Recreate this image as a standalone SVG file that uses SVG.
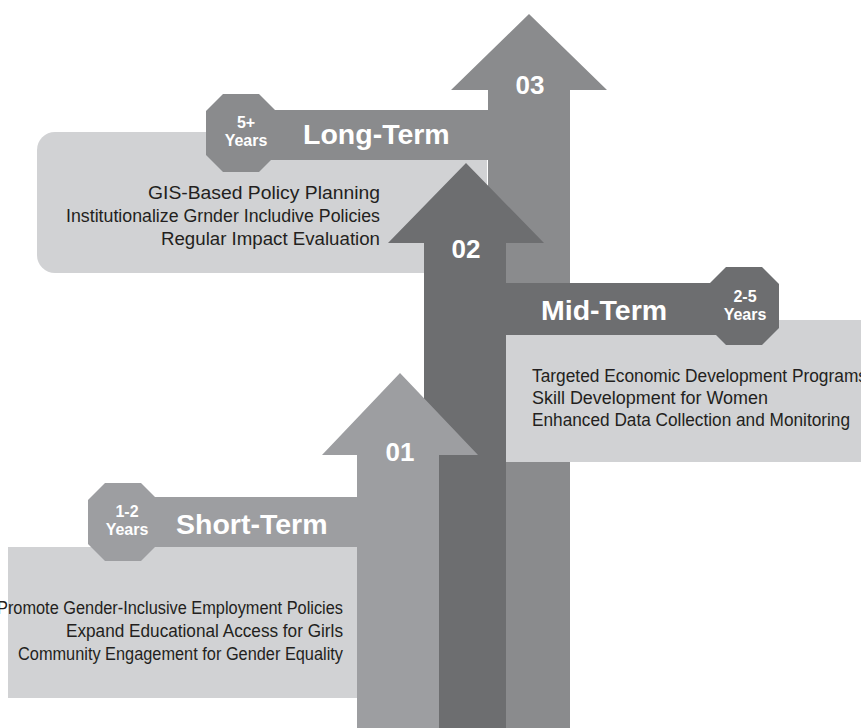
<svg xmlns="http://www.w3.org/2000/svg" width="861" height="728" viewBox="0 0 861 728">
  <style>
    .box { fill: #d1d2d4; }
    .c1 { fill: #9d9ea1; }
    .c2 { fill: #6d6e70; }
    .c3 { fill: #8a8b8d; }
    .title { font-family: "Liberation Sans", Arial, sans-serif; font-weight: bold; font-size: 28.5px; fill: #ffffff; }
    .yrs { font-family: "Liberation Sans", Arial, sans-serif; font-weight: bold; font-size: 16px; fill: #ffffff; text-anchor: middle; }
    .num { font-family: "Liberation Sans", Arial, sans-serif; font-weight: bold; font-size: 26px; fill: #ffffff; text-anchor: middle; }
    .item { font-family: "Liberation Sans", Arial, sans-serif; font-size: 17.5px; fill: #231f20; }
    .end { text-anchor: end; }
  </style>
  <defs>
    <!-- octagon badge centred on 0,0 -->
    <polygon id="oct" points="-18,-39 18,-39 35,-22 35,22 18,39 -18,39 -35,22 -35,-22"/>
  </defs>

  <rect width="861" height="728" fill="#ffffff"/>

  <!-- Long-term phase (5+ years) -->
  <g id="long-term">
    <path class="box" d="M55,132 H487 V273 H55 A18,18 0 0 1 37,255 V150 A18,18 0 0 1 55,132 Z"/>
    <rect class="c3" x="236" y="110" width="252" height="50"/>
    <use href="#oct" class="c3" x="241" y="133"/>
    <text class="yrs" x="246" y="128">5+</text>
    <text class="yrs" x="246" y="146">Years</text>
    <text class="title" x="303" y="144">Long-Term</text>
    <g class="item end">
      <text x="380" y="199" textLength="232" lengthAdjust="spacingAndGlyphs">GIS-Based Policy Planning</text>
      <text x="380" y="222" textLength="314" lengthAdjust="spacingAndGlyphs">Institutionalize Grnder Includive Policies</text>
      <text x="380" y="245" textLength="219" lengthAdjust="spacingAndGlyphs">Regular Impact Evaluation</text>
    </g>
  </g>

  <g id="arrows">
    <!-- arrow 03 -->
    <path id="arrow-03" class="c3" d="M529,14 L607,90 H570 V728 H488 V90 H451 Z"/>
  </g>

  <!-- Mid-term phase (2-5 years) -->
  <g id="mid-term">
    <rect class="box" x="506" y="320" width="355" height="142"/>
    <rect class="c2" x="500" y="283" width="245" height="52"/>
    <use href="#oct" class="c2" x="744" y="306"/>
    <text class="yrs" x="745" y="302">2-5</text>
    <text class="yrs" x="745" y="320">Years</text>
    <text class="title" x="541" y="320">Mid-Term</text>
    <g class="item">
      <text x="532" y="382" textLength="335" lengthAdjust="spacingAndGlyphs">Targeted Economic Development Programs</text>
      <text x="532" y="404" textLength="236" lengthAdjust="spacingAndGlyphs">Skill Development for Women</text>
      <text x="532" y="426" textLength="318" lengthAdjust="spacingAndGlyphs">Enhanced Data Collection and Monitoring</text>
    </g>
  </g>

  <g id="arrows-front">
    <!-- arrow 02 -->
    <path id="arrow-02" class="c2" d="M466,163 L544,243 H506 V728 H424 V243 H388 Z"/>
  </g>

  <!-- Short-term phase (1-2 years) -->
  <g id="short-term">
    <rect class="box" x="8" y="547" width="350" height="151"/>
    <rect class="c1" x="118" y="497" width="240" height="50"/>
    <use href="#oct" class="c1" x="123" y="522"/>
    <text class="yrs" x="127" y="517">1-2</text>
    <text class="yrs" x="127" y="535">Years</text>
    <text class="title" x="176" y="534">Short-Term</text>
    <g class="item end">
      <text x="343" y="614" textLength="346" lengthAdjust="spacingAndGlyphs">Promote Gender-Inclusive Employment Policies</text>
      <text x="343" y="637" textLength="277" lengthAdjust="spacingAndGlyphs">Expand Educational Access for Girls</text>
      <text x="343" y="660" textLength="325" lengthAdjust="spacingAndGlyphs">Community Engagement for Gender Equality</text>
    </g>
  </g>

  <g id="arrows-top">
    <!-- arrow 01 -->
    <path id="arrow-01" class="c1" d="M400,373 L478,455 H439 V728 H357 V455 H322 Z"/>
  </g>

  <!-- step numbers -->
  <g id="labels">
    <text class="num" x="530" y="94">03</text>
    <text class="num" x="466" y="258">02</text>
    <text class="num" x="400" y="461">01</text>
  </g>
</svg>
